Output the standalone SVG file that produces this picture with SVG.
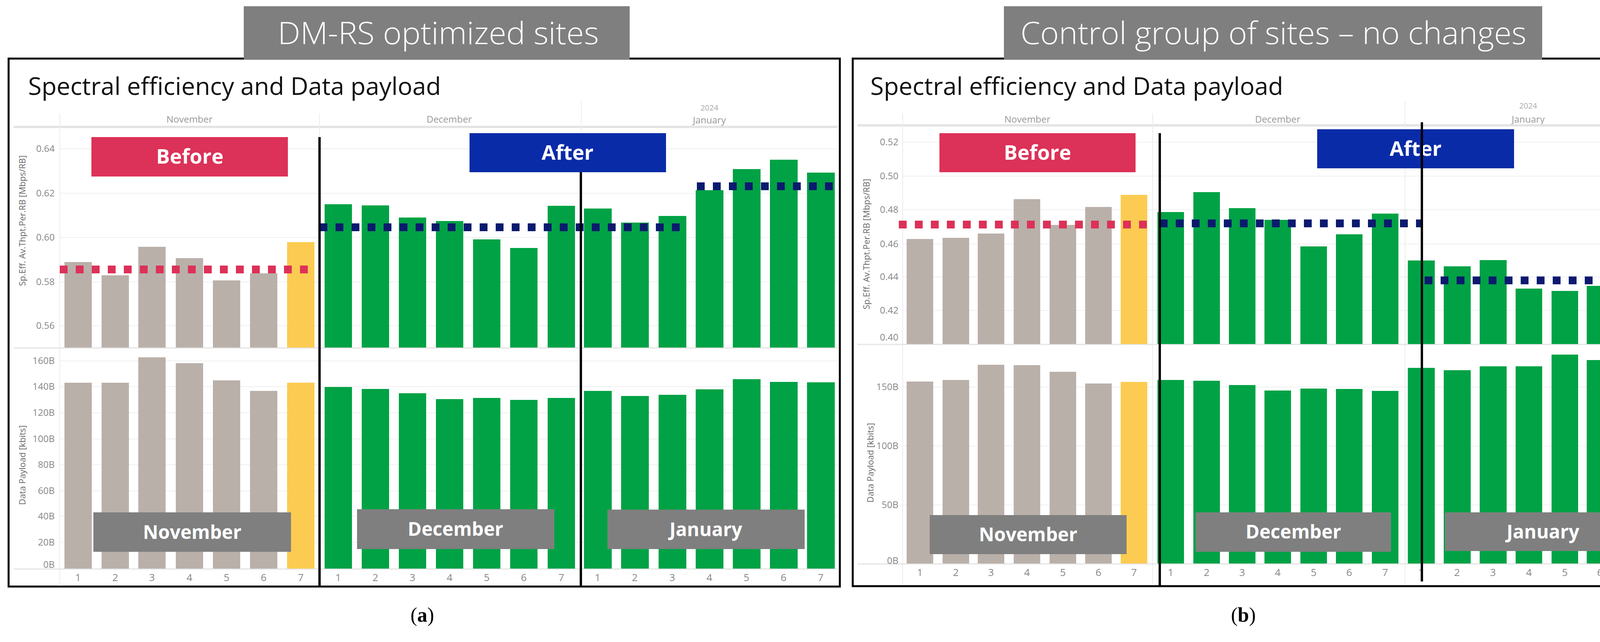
<svg xmlns="http://www.w3.org/2000/svg" width="4255" height="1644" viewBox="0 0 4255 1644">
<style>
text{font-family:"Open Sans","Noto Sans","Liberation Sans",sans-serif}
.hdr{fill:#7f7f7f}
.hdrt{fill:#fff;font-size:80px;font-weight:300}
.title{font-size:62px;fill:#111}
.mon{font-size:24px;fill:#999;text-anchor:middle}
.yr{font-size:20px;fill:#aaa;text-anchor:middle}
.tk{font-size:24px;fill:#888;text-anchor:end}
.xt{font-size:26px;fill:#888;text-anchor:middle}
.yt{font-size:22px;fill:#666;text-anchor:middle}
.grid{stroke:#f0f0f0;stroke-width:2}
.hl{stroke:#e4e4e4;stroke-width:6}
.sep{stroke:#ececec;stroke-width:2}
.frame{fill:none;stroke:#000;stroke-width:5}
.vl{stroke:#000;stroke-width:6}
.nv{fill:#bab0aa}.ye{fill:#fccb51}.gr{fill:#00a245}
.bef{fill:#dc3158}.aft{fill:#0a2ba8}
.lbl{fill:#fff;font-size:52px;font-weight:700;text-anchor:middle}
.mb{fill:#7f7f7f}
.mbt{fill:#fff;font-size:48px;font-weight:700;text-anchor:middle}
.rd{stroke:#dc3158;stroke-width:20;stroke-dasharray:20 21}
.bd{stroke:#0b1a6e;stroke-width:20;stroke-dasharray:20 21}
.cap{font-family:"Liberation Serif",serif;font-size:52px;fill:#000;text-anchor:middle}
</style>
<rect width="4255" height="1644" fill="#fff"/>

<g id="panel-a">
<rect class="frame" x="22" y="150" width="2128" height="1352"/>
<g id="header-a"><rect class="hdr" x="624" y="16" width="988" height="136"/>
<text class="hdrt" x="1122" y="113" text-anchor="middle" textLength="822" lengthAdjust="spacingAndGlyphs">DM-RS optimized sites</text></g>
<text class="title" x="72" y="243" textLength="1057" lengthAdjust="spacingAndGlyphs">Spectral efficiency and Data payload</text>
<text class="mon" x="485" y="314">November</text>
<text class="mon" x="1150" y="314">December</text>
<text class="yr" x="1816" y="283">2024</text>
<text class="mon" x="1816" y="316">January</text>
<line class="hl" x1="35" y1="325" x2="2145" y2="325"/>
<line class="sep" x1="153" y1="290" x2="153" y2="1500"/>
<line class="sep" x1="818" y1="290" x2="818" y2="1500"/>
<line class="sep" x1="1488" y1="260" x2="1488" y2="1500"/>
<g class="grid"><line x1="153" y1="381" x2="2145" y2="381"/><line x1="153" y1="495" x2="2145" y2="495"/><line x1="153" y1="608" x2="2145" y2="608"/><line x1="153" y1="722" x2="2145" y2="722"/><line x1="153" y1="834" x2="2145" y2="834"/>
<line x1="153" y1="924" x2="2145" y2="924"/><line x1="153" y1="990" x2="2145" y2="990"/><line x1="153" y1="1057" x2="2145" y2="1057"/><line x1="153" y1="1124" x2="2145" y2="1124"/><line x1="153" y1="1190" x2="2145" y2="1190"/><line x1="153" y1="1257" x2="2145" y2="1257"/><line x1="153" y1="1322" x2="2145" y2="1322"/><line x1="153" y1="1389" x2="2145" y2="1389"/></g>
<line class="hl" x1="35" y1="891" x2="2145" y2="891" style="stroke-width:3"/>
<line class="hl" x1="35" y1="1457" x2="2145" y2="1457" style="stroke-width:3"/>
<g class="tk"><text x="140" y="389">0.64</text><text x="140" y="503">0.62</text><text x="140" y="616">0.60</text><text x="140" y="730">0.58</text><text x="140" y="842">0.56</text>
<text x="140" y="932">160B</text><text x="140" y="998">140B</text><text x="140" y="1065">120B</text><text x="140" y="1132">100B</text><text x="140" y="1198">80B</text><text x="140" y="1265">60B</text><text x="140" y="1330">40B</text><text x="140" y="1397">20B</text><text x="140" y="1454">0B</text></g>
<text class="yt" transform="translate(65,565) rotate(-90)">Sp.Eff. Av.Thpt.Per.RB [Mbps/RB]</text>
<text class="yt" transform="translate(65,1191) rotate(-90)">Data Payload [kbits]</text>
<g id="bars-a">
<rect class="nv" x="165" y="671" width="70" height="219"/><rect class="nv" x="260" y="705" width="70" height="185"/><rect class="nv" x="354" y="632" width="70" height="258"/><rect class="nv" x="450" y="661" width="70" height="229"/><rect class="nv" x="545" y="718" width="70" height="172"/><rect class="nv" x="640" y="700" width="70" height="190"/><rect class="ye" x="735" y="620" width="70" height="270"/>
<rect class="gr" x="831" y="523" width="70" height="367"/><rect class="gr" x="926" y="526" width="70" height="364"/><rect class="gr" x="1021" y="557" width="70" height="333"/><rect class="gr" x="1116" y="566" width="70" height="324"/><rect class="gr" x="1211" y="613" width="70" height="277"/><rect class="gr" x="1306" y="635" width="70" height="255"/><rect class="gr" x="1402" y="527" width="70" height="363"/>
<rect class="gr" x="1495" y="534" width="71" height="356"/><rect class="gr" x="1590" y="570" width="71" height="320"/><rect class="gr" x="1686" y="553" width="71" height="337"/><rect class="gr" x="1781" y="487" width="71" height="403"/><rect class="gr" x="1876" y="433" width="71" height="457"/><rect class="gr" x="1971" y="409" width="71" height="481"/><rect class="gr" x="2066" y="442" width="71" height="448"/>
<rect class="nv" x="165" y="980" width="70" height="476"/><rect class="nv" x="260" y="980" width="70" height="476"/><rect class="nv" x="354" y="915" width="70" height="541"/><rect class="nv" x="450" y="930" width="70" height="526"/><rect class="nv" x="545" y="974" width="70" height="482"/><rect class="nv" x="640" y="1001" width="70" height="455"/><rect class="ye" x="735" y="980" width="70" height="476"/>
<rect class="gr" x="831" y="991" width="70" height="465"/><rect class="gr" x="926" y="996" width="70" height="460"/><rect class="gr" x="1021" y="1007" width="70" height="449"/><rect class="gr" x="1116" y="1022" width="70" height="434"/><rect class="gr" x="1211" y="1019" width="70" height="437"/><rect class="gr" x="1306" y="1024" width="70" height="432"/><rect class="gr" x="1402" y="1019" width="70" height="437"/>
<rect class="gr" x="1495" y="1001" width="71" height="455"/><rect class="gr" x="1590" y="1014" width="71" height="442"/><rect class="gr" x="1686" y="1011" width="71" height="445"/><rect class="gr" x="1781" y="997" width="71" height="459"/><rect class="gr" x="1876" y="971" width="71" height="485"/><rect class="gr" x="1971" y="978" width="71" height="478"/><rect class="gr" x="2066" y="979" width="71" height="477"/>
</g>
<g class="xt"><text x="200" y="1488">1</text><text x="295" y="1488">2</text><text x="389" y="1488">3</text><text x="485" y="1488">4</text><text x="580" y="1488">5</text><text x="675" y="1488">6</text><text x="770" y="1488">7</text>
<text x="866" y="1488">1</text><text x="961" y="1488">2</text><text x="1056" y="1488">3</text><text x="1151" y="1488">4</text><text x="1246" y="1488">5</text><text x="1341" y="1488">6</text><text x="1437" y="1488">7</text>
<text x="1530" y="1488">1</text><text x="1625" y="1488">2</text><text x="1721" y="1488">3</text><text x="1816" y="1488">4</text><text x="1911" y="1488">5</text><text x="2006" y="1488">6</text><text x="2101" y="1488">7</text></g>
<g id="before-a"><rect class="bef" x="234" y="351" width="503" height="101"/><text class="lbl" x="486" y="419">Before</text></g>
<g id="after-a"><rect class="aft" x="1202" y="341" width="503" height="100"/><text class="lbl" x="1453" y="409">After</text></g>
<g id="months-a">
<rect class="mb" x="239" y="1312" width="506" height="101"/><text class="mbt" x="492" y="1380">November</text>
<rect class="mb" x="914" y="1304" width="505" height="102"/><text class="mbt" x="1166" y="1372">December</text>
<rect class="mb" x="1555" y="1305" width="505" height="101"/><text class="mbt" x="1807" y="1373">January</text></g>
<text class="cap" x="1081" y="1592">(<tspan font-weight="bold">a</tspan>)</text>
</g>

<g id="panel-b">
<rect class="frame" x="2183" y="150" width="2058" height="1351"/>
<g id="header-b"><rect class="hdr" x="2570" y="16" width="1378" height="136"/>
<text class="hdrt" x="3260" y="113" text-anchor="middle" textLength="1295" lengthAdjust="spacingAndGlyphs">Control group of sites – no changes</text></g>
<text class="title" x="2228" y="243" textLength="1057" lengthAdjust="spacingAndGlyphs">Spectral efficiency and Data payload</text>
<text class="mon" x="2630" y="314">November</text>
<text class="mon" x="3271" y="314">December</text>
<text class="yr" x="3912" y="278">2024</text>
<text class="mon" x="3912" y="314">January</text>
<line class="hl" x1="2195" y1="321" x2="4236" y2="321"/>
<line class="sep" x1="2311" y1="290" x2="2311" y2="1495"/>
<line class="sep" x1="2951" y1="290" x2="2951" y2="1495"/>
<line class="sep" x1="3597" y1="260" x2="3597" y2="1495"/>
<g class="grid"><line x1="2311" y1="364" x2="4236" y2="364"/><line x1="2311" y1="451" x2="4236" y2="451"/><line x1="2311" y1="537" x2="4236" y2="537"/><line x1="2311" y1="625" x2="4236" y2="625"/><line x1="2311" y1="709" x2="4236" y2="709"/><line x1="2311" y1="795" x2="4236" y2="795"/>
<line x1="2311" y1="991" x2="4236" y2="991"/><line x1="2311" y1="1142" x2="4236" y2="1142"/><line x1="2311" y1="1293" x2="4236" y2="1293"/></g>
<line class="hl" x1="2195" y1="882" x2="4236" y2="882" style="stroke-width:3"/>
<line class="hl" x1="2195" y1="1444" x2="4236" y2="1444" style="stroke-width:3"/>
<g class="tk"><text x="2300" y="372">0.52</text><text x="2300" y="459">0.50</text><text x="2300" y="545">0.48</text><text x="2300" y="633">0.46</text><text x="2300" y="717">0.44</text><text x="2300" y="803">0.42</text><text x="2300" y="872">0.40</text>
<text x="2300" y="999">150B</text><text x="2300" y="1150">100B</text><text x="2300" y="1301">50B</text><text x="2300" y="1444">0B</text></g>
<text class="yt" transform="translate(2226,625) rotate(-90)">Sp.Eff. Av.Thpt.Per.RB [Mbps/RB]</text>
<text class="yt" transform="translate(2236,1185) rotate(-90)">Data Payload [kbits]</text>
<g id="bars-b">
<rect class="nv" x="2321" y="612" width="68" height="269"/><rect class="nv" x="2413" y="609" width="68" height="272"/><rect class="nv" x="2503" y="598" width="68" height="283"/><rect class="nv" x="2595" y="510" width="68" height="371"/><rect class="nv" x="2687" y="576" width="68" height="305"/><rect class="nv" x="2778" y="530" width="68" height="351"/><rect class="ye" x="2869" y="499" width="68" height="382"/>
<rect class="gr" x="2963" y="543" width="68" height="338"/><rect class="gr" x="3055" y="492" width="68" height="389"/><rect class="gr" x="3146" y="533" width="68" height="348"/><rect class="gr" x="3237" y="563" width="68" height="318"/><rect class="gr" x="3329" y="631" width="68" height="250"/><rect class="gr" x="3420" y="600" width="68" height="281"/><rect class="gr" x="3512" y="547" width="68" height="334"/>
<rect class="gr" x="3604" y="667" width="69" height="214"/><rect class="gr" x="3696" y="682" width="69" height="199"/><rect class="gr" x="3788" y="666" width="69" height="215"/><rect class="gr" x="3880" y="739" width="68" height="142"/><rect class="gr" x="3972" y="745" width="68" height="136"/><rect class="gr" x="4062" y="732" width="68" height="149"/><rect class="gr" x="4154" y="715" width="69" height="166"/>
<rect class="nv" x="2321" y="977" width="68" height="466"/><rect class="nv" x="2413" y="973" width="68" height="470"/><rect class="nv" x="2503" y="934" width="68" height="509"/><rect class="nv" x="2595" y="935" width="68" height="508"/><rect class="nv" x="2687" y="952" width="68" height="491"/><rect class="nv" x="2778" y="982" width="68" height="461"/><rect class="ye" x="2869" y="978" width="68" height="465"/>
<rect class="gr" x="2963" y="973" width="68" height="470"/><rect class="gr" x="3055" y="975" width="68" height="468"/><rect class="gr" x="3146" y="986" width="68" height="457"/><rect class="gr" x="3237" y="1000" width="68" height="443"/><rect class="gr" x="3329" y="995" width="68" height="448"/><rect class="gr" x="3420" y="996" width="68" height="447"/><rect class="gr" x="3512" y="1001" width="68" height="442"/>
<rect class="gr" x="3604" y="942" width="69" height="501"/><rect class="gr" x="3696" y="948" width="69" height="495"/><rect class="gr" x="3788" y="938" width="69" height="505"/><rect class="gr" x="3880" y="938" width="68" height="505"/><rect class="gr" x="3972" y="908" width="68" height="535"/><rect class="gr" x="4062" y="922" width="68" height="521"/><rect class="gr" x="4154" y="914" width="69" height="529"/>
</g>
<g class="xt"><text x="2355" y="1475">1</text><text x="2447" y="1475">2</text><text x="2537" y="1475">3</text><text x="2629" y="1475">4</text><text x="2721" y="1475">5</text><text x="2812" y="1475">6</text><text x="2903" y="1475">7</text>
<text x="2997" y="1475">1</text><text x="3089" y="1475">2</text><text x="3180" y="1475">3</text><text x="3271" y="1475">4</text><text x="3363" y="1475">5</text><text x="3454" y="1475">6</text><text x="3546" y="1475">7</text>
<text x="3638" y="1475">1</text><text x="3730" y="1475">2</text><text x="3822" y="1475">3</text><text x="3914" y="1475">4</text><text x="4006" y="1475">5</text><text x="4096" y="1475">6</text><text x="4188" y="1475">7</text></g>
<g id="before-b"><rect class="bef" x="2405" y="341" width="502" height="100"/><text class="lbl" x="2656" y="409">Before</text></g>
<g id="after-b"><rect class="aft" x="3372" y="331" width="504" height="100"/><text class="lbl" x="3624" y="399">After</text></g>
<g id="months-b">
<rect class="mb" x="2380" y="1319" width="504" height="100"/><text class="mbt" x="2632" y="1386">November</text>
<rect class="mb" x="3061" y="1312" width="500" height="101"/><text class="mbt" x="3311" y="1379">December</text>
<rect class="mb" x="3699" y="1312" width="502" height="99"/><text class="mbt" x="3950" y="1379">January</text></g>
<text class="cap" x="3183" y="1592">(<tspan font-weight="bold">b</tspan>)</text>
</g>

<g id="connectors">
<line class="rd" x1="153" y1="690" x2="792" y2="690"/>
<line class="bd" x1="818" y1="582" x2="1745" y2="582"/>
<line class="bd" x1="1784" y1="477" x2="2138" y2="477"/>
<line class="rd" x1="2301" y1="575" x2="2940" y2="575"/>
<line class="bd" x1="2969" y1="572" x2="3642" y2="572"/>
<line class="bd" x1="3647" y1="718" x2="4236" y2="718"/>
<line class="vl" x1="818" y1="351" x2="818" y2="1502"/>
<line class="vl" x1="1487" y1="441" x2="1487" y2="1502"/>
<line class="vl" x1="2969" y1="341" x2="2969" y2="1501"/>
<line class="vl" x1="3640" y1="313" x2="3640" y2="1489"/>
</g>
</svg>
